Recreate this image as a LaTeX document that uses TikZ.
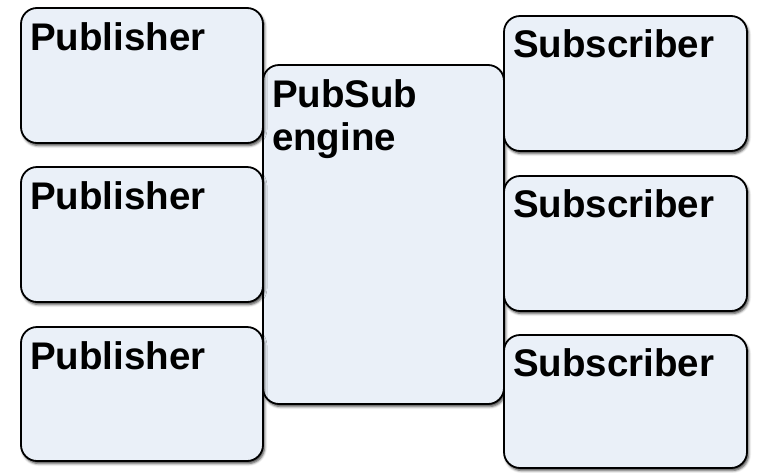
\documentclass[tikz,border=0pt]{standalone}
\usepackage{fontspec}
\setmainfont{Liberation Sans}
\usetikzlibrary{shadows.blur}
\definecolor{boxfill}{HTML}{EAF0F8}
\tikzset{
  box/.style={draw=black, line width=1.8pt, fill=boxfill, rounded corners=16pt,
    rectangle, inner sep=0pt, outer sep=0pt, anchor=north west,
    blur shadow={shadow xshift=1.5pt, shadow yshift=-2.5pt, shadow blur radius=2.5pt, shadow opacity=75}},
  lbl/.style={inner sep=0pt, outer sep=0pt, anchor=base west, align=left,
    font=\fontsize{38.5}{43}\selectfont\bfseries}
}
\begin{document}
\begin{tikzpicture}[x=1pt, y=-1pt]
  \useasboundingbox (0,0) rectangle (758,472);

  % central engine
  \node[box, minimum width=241pt, minimum height=339pt] (eng) at (263,65) {};
  % base anchor of a two-line node sits on the last line
  \node[lbl] (engt) at ([xshift=9pt, yshift=-85pt]eng.north west) {PubSub\\engine};

  % publishers on the left
  \node[box, minimum width=242pt, minimum height=135pt] (p1) at (21,8) {};
  \node[box, minimum width=242pt, minimum height=135pt] (p2) at (21,167) {};
  \node[box, minimum width=242pt, minimum height=134pt] (p3) at (21,327) {};
  \node[lbl] (p1t) at ([xshift=9pt, yshift=-42pt]p1.north west) {Publisher};
  \node[lbl] (p2t) at ([xshift=9pt, yshift=-42pt]p2.north west) {Publisher};
  \node[lbl] (p3t) at ([xshift=9pt, yshift=-42pt]p3.north west) {Publisher};

  % subscribers on the right
  \node[box, minimum width=243pt, minimum height=135pt] (s1) at (504,16) {};
  \node[box, minimum width=243pt, minimum height=135pt] (s2) at (504,176) {};
  \node[box, minimum width=243pt, minimum height=133pt] (s3) at (504,335) {};
  \node[lbl] (s1t) at ([xshift=9pt, yshift=-41pt]s1.north west) {Subscriber};
  \node[lbl] (s2t) at ([xshift=9pt, yshift=-41pt]s2.north west) {Subscriber};
  \node[lbl] (s3t) at ([xshift=9pt, yshift=-41pt]s3.north west) {Subscriber};
\end{tikzpicture}
\end{document}
